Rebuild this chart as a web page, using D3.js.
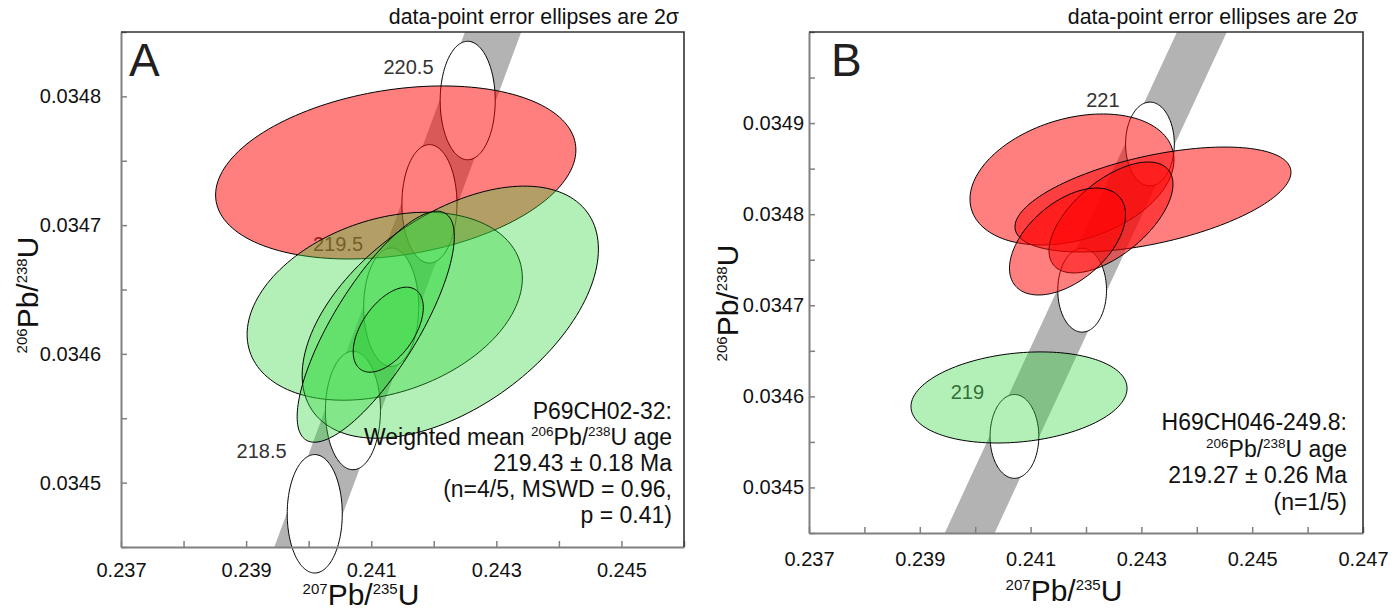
<!DOCTYPE html>
<html>
<head>
<meta charset="utf-8">
<script src="https://cdn.jsdelivr.net/npm/d3@7"></script>
<style>
  html, body { margin: 0; padding: 0; background: #ffffff; }
  svg { display: block; }
  text { font-family: "Liberation Sans", Arial, Helvetica, sans-serif; fill: #111; }
</style>
</head>
<body>
<svg id="chart" width="1395" height="611"></svg>
<script>
// Decay constants (Jaffey et al., 1971), per year
const LAMBDA_238 = 1.55125e-10;
const LAMBDA_235 = 9.8485e-10;

// Half-size of the decay-constant uncertainty on concordia (ratio units)
const MARKER_HX = 0.00044;
const MARKER_HY = 0.000046;
const BAND_HALF = 0.00045;

// ---- Sample P69CH02-32 (panel A) ----
// 207Pb/235U, 2σ, 206Pb/238U, 2σ, error correlation, used in the mean
const aPb207U235 = [0.241392, 0.241216, 0.242264, 0.241072, 0.241272];
const aErr207 =    [0.00288,  0.00220,  0.002368, 0.001256, 0.00056];
const aPb206U238 = [0.0347409, 0.0346370, 0.0346324, 0.0346211, 0.0346188];
const aErr206 =    [0.0000672, 0.0000730, 0.0000979, 0.0000897, 0.0000330];
const aRho =       [0.26, 0.30, 0.50, 0.78, 0.52];
const aUsed =      [false, true, true, true, true];

// ---- Sample H69CH046-249.8 (panel B) ----
const bPb207U235 = [0.241747, 0.243209, 0.242451, 0.241666, 0.240791];
const bErr207 =    [0.001841, 0.002491, 0.001119, 0.001047, 0.001950];
const bPb206U238 = [0.0348381, 0.0348161, 0.0347964, 0.0347700, 0.0345988];
const bErr206 =    [0.0000719, 0.0000576, 0.0000609, 0.0000587, 0.0000500];
const bRho =       [0.30, 0.52, 0.60, 0.50, 0.20];
const bUsed =      [false, false, false, false, true];

// Concordia age markers (Ma) and the ones that carry a label
const aMarkerAges = [218.5, 219.0, 219.5, 220.0, 220.5];
const aLabelAges  = [218.5, 219.5, 220.5];
const bMarkerAges = [219, 220, 221];
const bLabelAges  = [219, 221];

// Axis ticks
const aXTicks = [0.237, 0.238, 0.239, 0.240, 0.241, 0.242, 0.243, 0.244, 0.245, 0.246];
const aXLabels = [0.237, 0.239, 0.241, 0.243, 0.245];
const aYTicks = [0.03445, 0.0345, 0.03455, 0.0346, 0.03465, 0.0347, 0.03475, 0.0348, 0.03485];
const aYLabels = [0.0345, 0.0346, 0.0347, 0.0348];
const bXTicks = [0.237, 0.238, 0.239, 0.240, 0.241, 0.242, 0.243, 0.244, 0.245, 0.246, 0.247];
const bXLabels = [0.237, 0.239, 0.241, 0.243, 0.245, 0.247];
const bYTicks = [0.03445, 0.0345, 0.03455, 0.0346, 0.03465, 0.0347, 0.03475, 0.0348, 0.03485, 0.0349, 0.03495, 0.035];
const bYLabels = [0.0345, 0.0346, 0.0347, 0.0348, 0.0349];

const COLOR_USED = "rgb(50,215,60)";
const COLOR_REJECTED = "rgb(255,0,0)";

const svg = d3.select("#chart");

function concordia(ageMa) {
  const t = ageMa * 1e6;
  return [Math.expm1(LAMBDA_235 * t), Math.expm1(LAMBDA_238 * t)];
}
function ageFromPb206U238(r) { return Math.log1p(r) / LAMBDA_238 / 1e6; }

function ellipsePoints(cx, cy, hx, hy, rho, n = 160) {
  const k = Math.sqrt(1 - rho * rho);
  return d3.range(n).map(i => {
    const a = 2 * Math.PI * i / n;
    return [cx + hx * Math.cos(a), cy + hy * (rho * Math.cos(a) + k * Math.sin(a))];
  });
}

// Text with superscript runs; parts = [{text, sup}]
function richText(parent, parts, opt) {
  const t = parent.append("text")
    .attr("x", opt.x).attr("y", opt.y)
    .attr("text-anchor", opt.anchor || "start")
    .attr("font-size", opt.size);
  if (opt.transform) t.attr("transform", opt.transform);
  let up = false;
  parts.forEach(p => {
    const s = t.append("tspan").text(p.text);
    if (p.sup) {
      s.attr("font-size", opt.supSize);
      if (!up) s.attr("dy", -opt.raise);
      up = true;
    } else {
      if (up) s.attr("dy", opt.raise);
      up = false;
    }
  });
  return t;
}

const ratio207 = [{ text: "207", sup: true }, { text: "Pb/" }, { text: "235", sup: true }, { text: "U" }];
const ratio206 = [{ text: "206", sup: true }, { text: "Pb/" }, { text: "238", sup: true }, { text: "U" }];

function drawPanel(cfg) {
  const g = svg.append("g").attr("class", "panel-" + cfg.id);
  const x = d3.scaleLinear().domain(cfg.xDomain).range([cfg.left, cfg.right]);
  const y = d3.scaleLinear().domain(cfg.yDomain).range([cfg.bottom, cfg.top]);
  const path = d3.line().x(d => x(d[0])).y(d => y(d[1])).curve(d3.curveLinearClosed);

  const clipId = "plot-clip-" + cfg.id;
  svg.append("defs").append("clipPath").attr("id", clipId)
    .append("rect")
    .attr("x", cfg.left).attr("y", cfg.top)
    .attr("width", cfg.right - cfg.left).attr("height", cfg.bottom - cfg.top);

  // Concordia band (decay-constant uncertainty)
  const tLo = ageFromPb206U238(cfg.yDomain[0]) - 1;
  const tHi = ageFromPb206U238(cfg.yDomain[1]) + 1;
  const ages = d3.range(41).map(i => tLo + (tHi - tLo) * i / 40);
  const leftEdge = ages.map(t => { const c = concordia(t); return [c[0] - BAND_HALF, c[1]]; });
  const rightEdge = ages.map(t => { const c = concordia(t); return [c[0] + BAND_HALF, c[1]]; }).reverse();
  g.append("path")
    .attr("clip-path", `url(#${clipId})`)
    .attr("d", path(leftEdge.concat(rightEdge)))
    .attr("fill", "#b3b3b3");

  // Age markers along concordia
  const markers = cfg.markerAges
    .map(a => ({ age: a, c: concordia(a) }))
    .filter(m => m.c[1] >= cfg.yDomain[0] && m.c[1] <= cfg.yDomain[1]);
  g.selectAll("path.marker").data(markers).join("path")
    .attr("class", "marker")
    .attr("d", m => path(ellipsePoints(m.c[0], m.c[1], MARKER_HX, MARKER_HY, 0)))
    .attr("fill", "#ffffff").attr("stroke", "#000").attr("stroke-width", 1);

  // Age labels sit up and to the left of their marker
  const labelled = markers.filter(m => cfg.labelAges.includes(m.age));
  labelled.forEach(m => {
    let lx = x(m.c[0] - 2 * MARKER_HX + 0.00003);
    let ly = y(m.c[1] + MARKER_HY + 0.0000027);
    if (ly < cfg.top + 34) { ly = cfg.top + 35; lx -= 6; }
    g.append("text")
      .attr("x", lx).attr("y", ly + 7)
      .attr("text-anchor", "middle")
      .attr("font-size", 20)
      .style("fill", "#333")
      .text(cfg.ageFormat(m.age));
  });

  // Data-point error ellipses (2σ)
  const pts = cfg.drawOrder.map(i => ({
    i, cx: cfg.xs[i], cy: cfg.ys[i], hx: cfg.ex[i], hy: cfg.ey[i], rho: cfg.rho[i], used: cfg.used[i]
  }));
  g.selectAll("path.datum").data(pts).join("path")
    .attr("class", "datum")
    .attr("d", d => path(ellipsePoints(d.cx, d.cy, d.hx, d.hy, d.rho)))
    .attr("fill", d => d.used ? COLOR_USED : COLOR_REJECTED)
    .attr("fill-opacity", d => d.used ? 0.37 : 0.5)
    .attr("stroke", "#000").attr("stroke-width", 1);

  // Axes: ticks point into the plot
  const xAxis = d3.axisBottom(x).tickValues(cfg.xTicks).tickSize(-6).tickSizeOuter(0)
    .tickPadding(cfg.xPad)
    .tickFormat(d => cfg.xLabels.some(v => Math.abs(v - d) < 1e-9) ? d3.format(".3f")(d) : "");
  const yAxis = d3.axisLeft(y).tickValues(cfg.yTicks).tickSize(-6).tickSizeOuter(0)
    .tickPadding(cfg.yPad)
    .tickFormat(d => cfg.yLabels.some(v => Math.abs(v - d) < 1e-12) ? d3.format(".4f")(d) : "");

  const gx = g.append("g").attr("transform", `translate(0,${cfg.bottom})`).call(xAxis);
  const gy = g.append("g").attr("transform", `translate(${cfg.left},0)`).call(yAxis);
  [gx, gy].forEach(a => {
    a.select(".domain").attr("stroke", "#808080").attr("stroke-width", 2);
    a.selectAll(".tick line").attr("stroke", "#808080").attr("stroke-width", 1.5);
    a.selectAll(".tick text").attr("font-size", 20).attr("fill", "#111")
      .attr("font-family", '"Liberation Sans", Arial, Helvetica, sans-serif');
  });

  // Top and right frame
  g.append("path")
    .attr("d", `M${cfg.left},${cfg.top}H${cfg.right}V${cfg.bottom}`)
    .attr("fill", "none").attr("stroke", "#333").attr("stroke-width", 1.6);

  // Panel letter
  g.append("text").attr("x", cfg.letterX).attr("y", cfg.top + 44)
    .attr("font-size", 46).style("fill", "#231f20").text(cfg.id);

  // Caption above the frame
  g.append("text").attr("x", cfg.right - 5).attr("y", 24)
    .attr("text-anchor", "end").attr("font-size", 21.3)
    .text("data-point error ellipses are 2σ");

  // Axis titles
  richText(g, ratio207, { x: cfg.xTitle[0], y: cfg.xTitle[1], anchor: "middle", size: 30, supSize: 15, raise: 11 });
  richText(g, ratio206, {
    x: 0, y: 0, anchor: "middle", size: 30, supSize: 15, raise: 11,
    transform: `translate(${cfg.yTitle[0]},${cfg.yTitle[1]}) rotate(-90)`
  });

  // Result block
  cfg.notes.forEach((parts, k) => {
    richText(g, parts, {
      x: cfg.noteX, y: cfg.noteY + k * cfg.noteStep, anchor: "end",
      size: 23, supSize: 13.5, raise: 9
    });
  });
}

const nA = aUsed.filter(Boolean).length;
const nB = bUsed.filter(Boolean).length;

drawPanel({
  id: "A",
  left: 121, right: 684, top: 32, bottom: 547,
  xDomain: [0.237, 0.246], yDomain: [0.03445, 0.03485],
  xs: aPb207U235, ex: aErr207, ys: aPb206U238, ey: aErr206, rho: aRho, used: aUsed,
  drawOrder: [0, 1, 2, 3, 4],
  markerAges: aMarkerAges, labelAges: aLabelAges, ageFormat: d3.format(".1f"),
  xTicks: aXTicks, xLabels: aXLabels, yTicks: aYTicks, yLabels: aYLabels,
  xPad: 16, yPad: 20,
  letterX: 129,
  xTitle: [361, 605], yTitle: [38, 295],
  noteX: 672, noteY: 419, noteStep: 26,
  notes: [
    [{ text: "P69CH02-32:" }],
    [{ text: "Weighted mean " }].concat(ratio206, [{ text: " age" }]),
    [{ text: "219.43 ± 0.18 Ma" }],
    [{ text: `(n=${nA}/${aUsed.length}, MSWD = 0.96,` }],
    [{ text: "p = 0.41)" }]
  ]
});

drawPanel({
  id: "B",
  left: 809, right: 1363, top: 32, bottom: 533,
  xDomain: [0.237, 0.247], yDomain: [0.03445, 0.035],
  xs: bPb207U235, ex: bErr207, ys: bPb206U238, ey: bErr206, rho: bRho, used: bUsed,
  drawOrder: [0, 1, 2, 3, 4],
  markerAges: bMarkerAges, labelAges: bLabelAges, ageFormat: d3.format("d"),
  xTicks: bXTicks, xLabels: bXLabels, yTicks: bYTicks, yLabels: bYLabels,
  xPad: 19, yPad: 5,
  letterX: 831,
  xTitle: [1064, 601], yTitle: [738, 303],
  noteX: 1347, noteY: 430, noteStep: 26.5,
  notes: [
    [{ text: "H69CH046-249.8:" }],
    ratio206.concat([{ text: " age" }]),
    [{ text: "219.27 ± 0.26 Ma" }],
    [{ text: `(n=${nB}/${bUsed.length})` }]
  ]
});
</script>
</body>
</html>
